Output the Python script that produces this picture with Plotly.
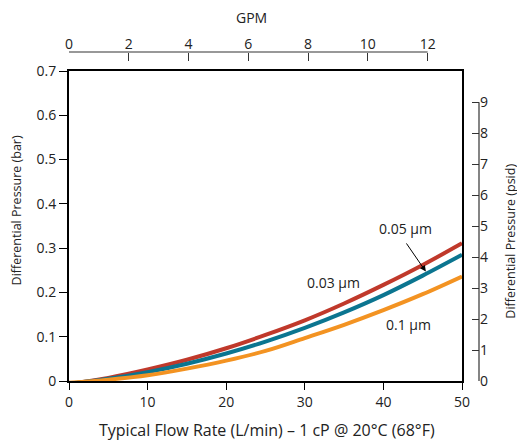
import plotly.graph_objects as go

# Flow rate (L/min)
flow_lpm = [0, 5, 10, 15, 20, 25, 30, 35, 40, 45, 50]
# Differential pressure (bar) per membrane rating
dp_003 = [-0.007, 0.007, 0.026, 0.048, 0.074, 0.104, 0.137, 0.175, 0.217, 0.262, 0.311]
dp_005 = [-0.006, 0.005, 0.020, 0.039, 0.062, 0.089, 0.120, 0.155, 0.194, 0.238, 0.285]
dp_01 = [-0.004, 0.003, 0.013, 0.028, 0.046, 0.068, 0.097, 0.127, 0.160, 0.196, 0.236]

series_names = ["0.03 µm", "0.05 µm", "0.1 µm"]
series_colors = ["#c0392b", "#0b7590", "#f39322"]

bar_ticks = [0, 0.1, 0.2, 0.3, 0.4, 0.5, 0.6, 0.7]
bar_ticktext = ["0", "0.1", "0.2", "0.3", "0.4", "0.5", "0.6", "0.7"]
lpm_ticks = [0, 10, 20, 30, 40, 50]
gpm_ticks = [0, 2, 4, 6, 8, 10, 12]
psi_ticks = [0, 1, 2, 3, 4, 5, 6, 7, 8, 9]

GPM_MAX = 13.15     # 50 L/min in GPM (as drawn)
PSI_MAX = 10.01     # 0.7 bar in psi (as drawn)

FONT = "Open Sans"
TXT = "#222222"

fig = go.Figure()
for ys, name, col in zip([dp_003, dp_005, dp_01], series_names, series_colors):
    fig.add_trace(go.Scatter(x=flow_lpm, y=ys, mode="lines", name=name,
                             line=dict(color=col, width=4, shape="spline"),
                             showlegend=False, hoverinfo="skip"))

# invisible helper traces so the secondary axes render
fig.add_trace(go.Scatter(x=gpm_ticks, y=[0] * len(gpm_ticks), xaxis="x2", yaxis="y",
                         mode="markers", marker=dict(opacity=0), showlegend=False, hoverinfo="skip"))
fig.add_trace(go.Scatter(x=[0] * len(psi_ticks), y=psi_ticks, xaxis="x", yaxis="y2",
                         mode="markers", marker=dict(opacity=0), showlegend=False, hoverinfo="skip"))

xdom = [0, 393 / 410]
ydom = [0, 310 / 329]

axis_font = dict(family=FONT, size=14, color=TXT)
vtitle_font = dict(family=FONT, size=12.5, color=TXT)
btitle_font = dict(family=FONT, size=16, color=TXT)

# page body has an 8px margin, so the figure is 8px smaller than the window
fig.update_layout(
    width=517, height=435,
    margin=dict(l=61, r=46, t=44, b=62, autoexpand=False),
    paper_bgcolor="white", plot_bgcolor="white",
    font=dict(family=FONT, size=14, color=TXT),
    xaxis=dict(domain=xdom, range=[0, 50], tickvals=lpm_ticks, ticks="outside", ticklen=7,
               tickcolor="black", showline=True, linecolor="black", linewidth=2, mirror=True,
               showgrid=False, zeroline=False, tickfont=axis_font, automargin=False),
    yaxis=dict(domain=ydom, range=[0, 0.7], tickvals=bar_ticks, ticktext=bar_ticktext, ticks="outside",
               ticklen=8, tickcolor="black", showline=True, linecolor="black", linewidth=2, mirror=True,
               showgrid=False, zeroline=False, tickfont=axis_font, automargin=False),
    xaxis2=dict(overlaying="x", side="top", anchor="free", position=1, range=[0, GPM_MAX],
                tickvals=gpm_ticks, ticks="inside", ticklen=8, tickcolor="#333333", tickwidth=1.2,
                showline=False, showgrid=False, zeroline=False, tickfont=axis_font, automargin=False),
    yaxis2=dict(overlaying="y", side="right", anchor="free", position=1, range=[0, PSI_MAX],
                tickvals=psi_ticks, ticks="inside", ticklen=7, tickcolor="#333333", tickwidth=1.2,
                showline=False, showgrid=False, zeroline=False, tickfont=axis_font, automargin=False),
    shapes=[
        dict(type="line", xref="x2", yref="paper", x0=gpm_ticks[0], x1=gpm_ticks[-1], y0=1, y1=1,
             line=dict(color="#333333", width=1.2)),
        dict(type="line", xref="paper", yref="y2", x0=1, x1=1, y0=psi_ticks[0], y1=psi_ticks[-1],
             line=dict(color="#333333", width=1.2)),
    ],
    annotations=[
        dict(text="GPM", xref="x2", yref="paper", x=6.1, y=1.104, showarrow=False,
             font=axis_font, xanchor="center", yanchor="middle", borderpad=0),
        dict(text="Differential Pressure (psid)", xref="paper", yref="y2", x=1.078, y=4.53,
             textangle=-90, showarrow=False, font=vtitle_font, xanchor="center", yanchor="middle",
             borderpad=0),
        dict(text="Differential Pressure (bar)", xref="paper", yref="y", x=-0.127, y=0.385,
             textangle=-90, showarrow=False, font=vtitle_font, xanchor="center", yanchor="middle"),
        dict(text="Typical Flow Rate (L/min) – 1 cP @ 20°C (68°F)", xref="x", yref="paper",
             x=25.2, y=-0.149, showarrow=False, font=btitle_font, xanchor="center", yanchor="middle"),
        dict(text="0.05 µm", x=42.75, y=0.344, showarrow=False, font=axis_font),
        dict(text="0.03 µm", x=33.65, y=0.222, showarrow=False, font=axis_font),
        dict(text="0.1 µm", x=43.2, y=0.128, showarrow=False, font=axis_font),
        dict(text="", x=45.4, y=0.247, ax=42.8, ay=0.314, axref="x", ayref="y",
             showarrow=True, arrowhead=2, arrowsize=1.2, arrowwidth=1, arrowcolor="black", standoff=0),
    ],
)

fig.write_html("out.html")
